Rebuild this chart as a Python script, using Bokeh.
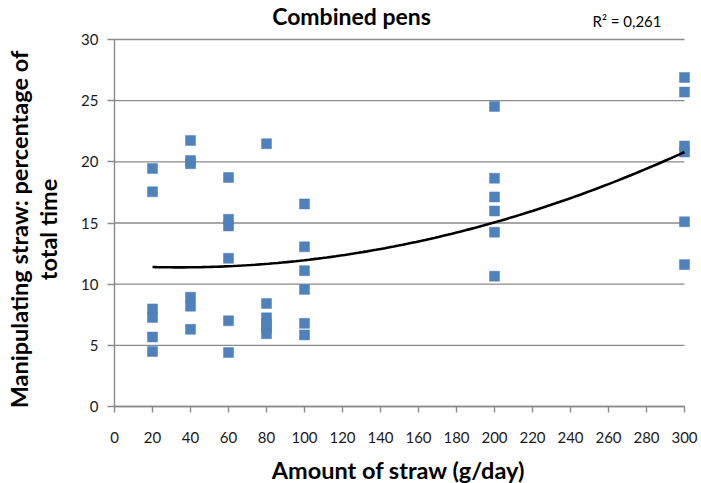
import numpy as np
from bokeh.plotting import figure
from bokeh.models import Range1d, FixedTicker, Label
from bokeh.embed import file_html
from bokeh.resources import INLINE

# ---- data ----
straw_amounts = [20, 40, 60, 80, 100, 200, 300]
pct_20 = [19.45, 17.55, 7.98, 7.27, 5.68, 4.5]
pct_40 = [21.75, 20.1, 19.85, 8.93, 8.2, 6.31]
pct_60 = [18.72, 15.3, 14.76, 12.12, 7.0, 4.41]
pct_80 = [21.48, 8.42, 7.25, 6.75, 6.4, 5.95]
pct_100 = [16.56, 13.05, 11.1, 9.57, 6.8, 5.85]
pct_200 = [24.53, 18.66, 17.13, 15.98, 14.25, 10.65]
pct_300 = [26.9, 25.7, 21.3, 20.8, 15.1, 11.6]
groups = [pct_20, pct_40, pct_60, pct_80, pct_100, pct_200, pct_300]

# polynomial (order 2) trend line coefficients: a + b*x + c*x^2
trend_coef = [11.526, -0.00897, 0.00013294]
trend_range = [20, 300]
r2_text = "R² = 0,261"

x_ticks = list(range(0, 301, 20))
y_ticks = [0, 5, 10, 15, 20, 25, 30]

title_text = "Combined pens"
x_label = "Amount of straw (g/day)"
y_label_1 = "Manipulating straw: percentage of"
y_label_2 = "total time"

xs, ys = [], []
for amt, vals in zip(straw_amounts, groups):
    xs += [amt] * len(vals)
    ys += vals

FONT = "Lato"
GRID = "#8a8a8a"
W, H = 701, 483
# frame = whole canvas; pixel placement of the axes
X0_PX, X300_PX = 114, 684
Y0_PX, Y30_PX = 406, 39
xpx = (X300_PX - X0_PX) / 300.0
ypx = (Y0_PX - Y30_PX) / 30.0

p = figure(width=W, height=H, output_backend="svg", toolbar_location=None,
           x_range=Range1d(-X0_PX / xpx, (W - X0_PX) / xpx),
           y_range=Range1d(-(H - Y0_PX) / ypx, Y0_PX / ypx),
           min_border_left=0, min_border_right=0, min_border_top=0, min_border_bottom=0)
p.outline_line_color = None
p.xgrid.visible = False
p.ygrid.visible = False

# horizontal gridlines from 0 to 300
p.segment(x0=[x_ticks[0]] * len(y_ticks), x1=[x_ticks[-1]] * len(y_ticks),
          y0=y_ticks, y1=y_ticks, line_color=GRID, line_width=1.4)

for ax in (p.xaxis[0], p.yaxis[0]):
    ax.fixed_location = 0
    ax.axis_line_color = GRID
    ax.axis_line_width = 1.4
    ax.major_tick_line_color = GRID
    ax.major_tick_line_width = 1.4
    ax.major_tick_in = 0
    ax.minor_tick_line_color = None
    ax.major_label_text_font = FONT
    ax.major_label_text_font_size = "15px"
    ax.major_label_text_color = "#1a1a1a"

p.xaxis.ticker = FixedTicker(ticks=x_ticks)
p.xaxis.bounds = (0, 300)
p.xaxis.major_tick_out = 6
p.xaxis.major_label_standoff = 19
p.yaxis.ticker = FixedTicker(ticks=y_ticks)
p.yaxis.bounds = (0, 30)
p.yaxis.major_tick_out = 7
p.yaxis.major_label_standoff = 9

p.scatter(xs, ys, marker="square", size=10, fill_color="#4F81BD", line_color="#4F81BD",
          line_width=0.5)

tx = np.linspace(trend_range[0], trend_range[1], 120)
ty = trend_coef[0] + trend_coef[1] * tx + trend_coef[2] * tx ** 2
p.line(tx, ty, line_color="black", line_width=2.6)

def lab(text, x, y, size, bold=True, align="center", angle=0.0):
    p.add_layout(Label(x=x, y=H - y, x_units="screen", y_units="screen", text=text,
                       angle=angle, text_font=FONT,
                       text_font_style="bold" if bold else "normal",
                       text_font_size=size, text_align=align, text_baseline="middle",
                       text_color="black"))

lab(title_text, 351, 15, "23px")
lab(r2_text, 592, 20, "15px", bold=False, align="left")
lab(x_label, 398, 469, "23.5px")
lab(y_label_1, 18, 229, "23.5px", angle=np.pi / 2)
lab(y_label_2, 47.5, 229, "23.5px", angle=np.pi / 2)

open("out.html", "w").write(file_html(p, INLINE))
